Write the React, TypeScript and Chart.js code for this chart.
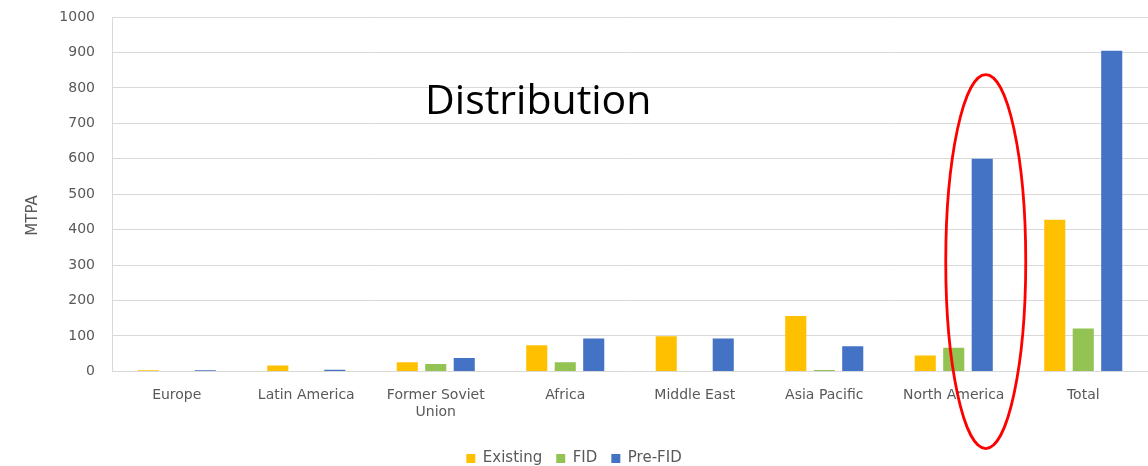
import React, { useEffect, useRef } from "react";
import { Chart, registerables } from "chart.js";

Chart.register(...registerables);

const categories: (string | string[])[] = [
  "Europe",
  "Latin America",
  ["Former Soviet", "Union"],
  "Africa",
  "Middle East",
  "Asia Pacific",
  "North America",
  "Total",
];
const existing = [3, 17, 26, 74, 99, 156, 45, 428];
const fid = [0, 0, 21, 26, 0, 4, 67, 121];
const preFid = [3, 5, 38, 93, 93, 71, 600, 905];
const yTicks = [0, 100, 200, 300, 400, 500, 600, 700, 800, 900, 1000];

const FONT = "'DejaVu Sans', sans-serif";
const TITLE_FONT = "'Open Sans', sans-serif";
const GREY = "#595959";

const overlayPlugin = {
  id: "overlay",
  afterDatasetsDraw(chart: any) {
    const { ctx, scales } = chart;
    const x = scales.x;
    const y = scales.y;
    ctx.save();
    // axis title
    ctx.fillStyle = GREY;
    ctx.font = `15px ${FONT}`;
    ctx.textAlign = "center";
    ctx.textBaseline = "middle";
    ctx.translate(33, y.getPixelForValue(440));
    ctx.rotate(-Math.PI / 2);
    ctx.fillText("MTPA", 0, 0);
    ctx.restore();
    ctx.save();
    // annotation title
    ctx.fillStyle = "#000000";
    ctx.font = `41px ${TITLE_FONT}`;
    ctx.textAlign = "center";
    ctx.textBaseline = "alphabetic";
    const tx = x.getPixelForValue(3) - 27;
    ctx.fillText("Distribution", tx, y.getPixelForValue(727));
    // red ellipse around North America
    const cx = x.getPixelForValue(6) + 32;
    const cy = y.getPixelForValue(310);
    ctx.strokeStyle = "#FF0000";
    ctx.lineWidth = 2.8;
    ctx.beginPath();
    ctx.ellipse(cx, cy, 40, 187, 0, 0, Math.PI * 2);
    ctx.stroke();
    ctx.restore();
  },
};

export default function App() {
  const ref = useRef<HTMLCanvasElement | null>(null);
  useEffect(() => {
    if (!ref.current) return;
    const chart = new Chart(ref.current, {
      type: "bar",
      data: {
        labels: categories,
        datasets: [
          { label: "Existing", data: existing, backgroundColor: "#FFC000" },
          { label: "FID", data: fid, backgroundColor: "#92C353" },
          { label: "Pre-FID", data: preFid, backgroundColor: "#4472C4" },
        ],
      },
      options: {
        animation: false,
        responsive: false,
        maintainAspectRatio: false,
        layout: { padding: { left: 0, top: 17, right: 0, bottom: -10 } },
        datasets: {
          bar: { categoryPercentage: 0.66, barPercentage: 0.74 },
        },
        scales: {
          x: {
            grid: { display: false, drawTicks: false },
            border: { color: "#D9D9D9" },
            ticks: {
              color: GREY,
              font: { family: FONT, size: 14 },
              maxRotation: 0,
              autoSkip: false,
              padding: 16,
            },
            afterFit: (s: any) => {
              s.paddingLeft = 0;
              s.paddingRight = 0;
            },
          },
          y: {
            min: 0,
            max: 1000,
            afterBuildTicks: (s: any) => {
              s.ticks = yTicks.map((v) => ({ value: v }));
            },
            afterFit: (s: any) => {
              s.width = 112;
              s.paddingTop = 0;
              s.paddingBottom = 0;
            },
            grid: { color: "#D9D9D9", drawTicks: false },
            border: { color: "#D9D9D9" },
            ticks: {
              color: GREY,
              font: { family: FONT, size: 14 },
              padding: 17,
              callback: (v: any) => String(v),
            },
          },
        },
        plugins: {
          legend: {
            position: "bottom",
            labels: {
              color: GREY,
              font: { family: FONT, size: 15 },
              boxWidth: 9,
              boxHeight: 9,
              padding: 14,
            },
          },
          tooltip: { enabled: false },
        },
      },
      plugins: [overlayPlugin],
    });
    return () => chart.destroy();
  }, []);
  return (
    <div style={{ position: "absolute", left: 0, top: 0, width: 1148, height: 466, background: "#fff" }}>
      <canvas ref={ref} width={1148} height={466} style={{ width: 1148, height: 466 }} />
    </div>
  );
}
